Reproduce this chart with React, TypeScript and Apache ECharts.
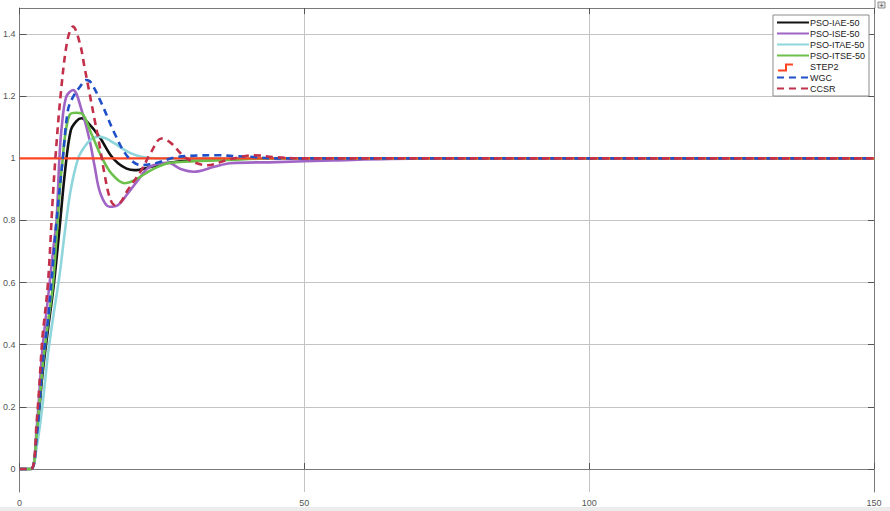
import React, { useEffect, useRef } from "react";
import * as echarts from "echarts";

// ---- data (time in s, response) ----
const T_IAE = [0, 2, 3, 4, 5, 6, 7, 8, 9, 10, 10.9, 12, 14, 16, 17.3, 18.8, 20.2, 23.1, 26, 30, 35, 150];
const V_IAE = [0, 0, 0.1, 0.3, 0.45, 0.59, 0.77, 0.96, 1.09, 1.12, 1.129, 1.115, 1.07, 1.01, 0.984, 0.967, 0.962, 0.973, 0.985, 0.994, 1.0, 1.0];

const T_ISE = [0, 2, 3, 4, 5, 6, 6.5, 7, 7.4, 8.2, 9.4, 10.9, 12.3, 13.2, 14.2, 15.8, 17.3, 19, 20.8, 22.5, 24.3, 26, 28.4, 30.6, 34.2, 37, 45, 55, 65, 80, 150];
const V_ISE = [0, 0, 0.13, 0.38, 0.55, 0.72, 0.8, 1.0, 1.1, 1.198, 1.22, 1.155, 1.059, 0.973, 0.887, 0.844, 0.85, 0.887, 0.93, 0.968, 0.982, 0.986, 0.965, 0.957, 0.973, 0.984, 0.988, 0.993, 0.998, 1.0, 1.0];

const T_ITAE = [0, 2, 3, 4, 5, 6, 7, 8, 9, 10.3, 11.4, 12.5, 13.8, 15.2, 16.7, 18.2, 19.6, 21.4, 24, 30, 150];
const V_ITAE = [0, 0, 0.07, 0.2, 0.37, 0.5, 0.62, 0.77, 0.9, 1.0, 1.037, 1.06, 1.07, 1.064, 1.048, 1.03, 1.016, 1.005, 1.0, 1.0, 1.0];

const T_ITSE = [0, 2, 3, 4, 5, 5.9, 7.2, 7.6, 7.9, 8.8, 9.9, 10.9, 12.6, 14.4, 16.1, 18.4, 20.2, 23.1, 26, 28.9, 36.5, 45, 150];
const V_ITSE = [0, 0, 0.11, 0.32, 0.47, 0.6, 0.93, 1.0, 1.06, 1.14, 1.147, 1.145, 1.08, 1.005, 0.952, 0.92, 0.93, 0.962, 0.984, 0.989, 0.995, 1.0, 1.0];

const T_STEP = [0, 150];
const V_STEP = [1, 1];

const T_WGC = [0, 2, 3, 4, 5, 5.6, 6.5, 7.6, 8.5, 9.4, 10.6, 11.7, 12.5, 14.4, 16.7, 19, 21.4, 24, 27.2, 30, 34.8, 38, 40.6, 45, 150];
const V_WGC = [0, 0, 0.1, 0.33, 0.48, 0.6, 0.8, 1.0, 1.155, 1.198, 1.23, 1.252, 1.245, 1.177, 1.08, 1.005, 0.978, 0.985, 1.003, 1.008, 1.01, 1.007, 1.005, 1.0, 1.0];

const T_CCSR = [0, 2, 3, 4, 4.15, 5, 5.8, 6.3, 7.2, 8.4, 9.4, 10.6, 11.4, 12.3, 13.2, 14.1, 14.9, 15.8, 16.7, 17.6, 19, 21.4, 23.1, 24.9, 26.6, 28.9, 31, 33, 36.5, 41.2, 44.7, 50, 150];
const V_CCSR = [0, 0, 0.15, 0.42, 0.447, 0.6, 0.86, 1.0, 1.2, 1.38, 1.424, 1.37, 1.295, 1.209, 1.123, 1.037, 0.952, 0.876, 0.85, 0.855, 0.898, 0.962, 1.02, 1.064, 1.049, 1.005, 0.985, 0.978, 0.995, 1.01, 1.004, 1.0, 1.0];

const Y_TICKS = [0, 0.2, 0.4, 0.6, 0.8, 1, 1.2, 1.4];

const NAMES = ["PSO-IAE-50", "PSO-ISE-50", "PSO-ITAE-50", "PSO-ITSE-50", "STEP2", "WGC", "CCSR"];
const COLORS = ["#111111", "#a064c4", "#8fd6dc", "#6cc04c", "#ff4422", "#1f50c8", "#c2304a"];

const pairs = (t: number[], v: number[]) => t.map((x, i) => [x, v[i]]);

export default function App() {
  const ref = useRef<HTMLDivElement>(null);
  useEffect(() => {
    if (!ref.current) return;
    const chart = echarts.init(ref.current, undefined, { renderer: "svg" });
    const font = "Liberation Sans, Arial, sans-serif";
    const seriesData = [
      pairs(T_IAE, V_IAE),
      pairs(T_ISE, V_ISE),
      pairs(T_ITAE, V_ITAE),
      pairs(T_ITSE, V_ITSE),
      pairs(T_STEP, V_STEP),
      pairs(T_WGC, V_WGC),
      pairs(T_CCSR, V_CCSR),
    ];
    const series = NAMES.map((name, i) => ({
      name,
      type: "line",
      data: seriesData[i],
      showSymbol: false,
      symbol: "none",
      smooth: i === 4 ? false : 0.35,
      xAxisIndex: 0,
      yAxisIndex: 0,
      lineStyle: {
        color: COLORS[i],
        width: i === 4 ? 2.2 : 2.6,
        type: i >= 5 ? [7, 5] : "solid",
      },
      itemStyle: { color: COLORS[i] },
    }));
    const yMin = -0.074;
    const yMax = 1.484;
    chart.setOption({
      animation: false,
      backgroundColor: "#ffffff",
      textStyle: { fontFamily: font },
      grid: { left: 18, right: 16, top: 8, bottom: 19, containLabel: false },
      legend: {
        orient: "vertical",
        right: 21,
        top: 15,
        itemWidth: 32,
        itemHeight: 9,
        itemGap: 2,
        padding: [3, 4, 3, 3],
        borderColor: "#8a8a8a",
        borderWidth: 1,
        backgroundColor: "#ffffff",
        itemStyle: { opacity: 0 },
        textStyle: { fontSize: 9, color: "#222", fontFamily: font, padding: [0, 0, 0, -4] },
        data: NAMES.map((n, i) =>
          i === 4
            ? { name: n, lineStyle: { opacity: 0 }, itemStyle: { opacity: 0 } }
            : { name: n }
        ),
      },
      xAxis: [
        {
          type: "value",
          min: 0,
          max: 150,
          interval: 50,
          axisLine: { show: true, lineStyle: { color: "#7a7a7a", width: 1 } },
          axisTick: { show: true, inside: true, length: 6, lineStyle: { color: "#555" } },
          axisLabel: { fontSize: 9, color: "#555", margin: 6, fontFamily: font },
          splitLine: { show: true, lineStyle: { color: "#c4c4c4", width: 1 } },
        },
        {
          type: "value",
          position: "top",
          min: 0,
          max: 150,
          interval: 50,
          axisLine: { show: true, onZero: false, lineStyle: { color: "#7a7a7a", width: 1 } },
          axisTick: { show: true, inside: true, length: 6, lineStyle: { color: "#555" } },
          axisLabel: { show: false },
          splitLine: { show: false },
        },
      ],
      yAxis: [
        {
          type: "value",
          min: yMin,
          max: yMax,
          axisLine: { show: true, onZero: false, lineStyle: { color: "#7a7a7a", width: 1 } },
          axisTick: { show: true, inside: true, length: 7, customValues: Y_TICKS, lineStyle: { color: "#555" } },
          axisLabel: { fontSize: 9, color: "#555", margin: 4, customValues: Y_TICKS, fontFamily: font },
          splitLine: { show: true, lineStyle: { color: "#c4c4c4", width: 1.2 } },
        },
        {
          type: "value",
          position: "right",
          min: yMin,
          max: yMax,
          axisLine: { show: true, onZero: false, lineStyle: { color: "#7a7a7a", width: 1 } },
          axisTick: { show: true, inside: true, length: 6, customValues: Y_TICKS, lineStyle: { color: "#555" } },
          axisLabel: { show: false, customValues: Y_TICKS },
          splitLine: { show: false },
        },
      ],
      graphic: [
        { type: "line", shape: { x1: 875, y1: 0, x2: 875, y2: 8 }, style: { stroke: "#8a8a8a", lineWidth: 1 } },
        { type: "rect", shape: { x: 878, y: 2, width: 7, height: 6 }, style: { fill: "#e6e6e6", stroke: "#777", lineWidth: 0.8 } },
        { type: "text", x: 881.5, y: 5, style: { text: "+", fontSize: 7, fill: "#333", align: "center", verticalAlign: "middle", fontFamily: font } },
        { type: "rect", shape: { x: 0, y: 507, width: 890, height: 4 }, style: { fill: "#ececec" }, z: -1 },
        {
          type: "polyline",
          z: 100,
          shape: { points: [[778, 70.5], [786, 70.5], [786, 64.5], [793, 64.5]] },
          style: { stroke: COLORS[4], lineWidth: 2, fill: "none" },
        },
      ],
      series,
    });
    return () => chart.dispose();
  }, []);
  return (
    <div
      ref={ref}
      style={{ position: "fixed", left: 0, top: 0, width: 890, height: 511 }}
    />
  );
}
